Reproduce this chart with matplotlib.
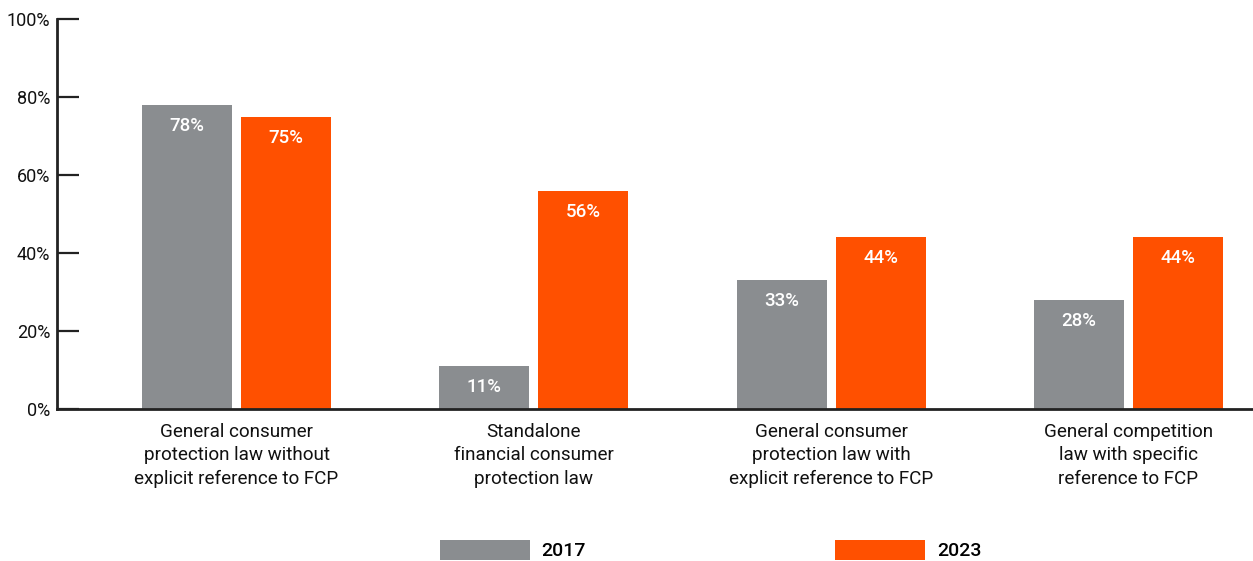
import matplotlib
matplotlib.use("Agg")
import matplotlib.pyplot as plt
import numpy as np

plt.rcParams['font.family'] = ['Roboto', 'DejaVu Sans']

categories = [
    "General consumer\nprotection law without\nexplicit reference to FCP",
    "Standalone\nfinancial consumer\nprotection law",
    "General consumer\nprotection law with\nexplicit reference to FCP",
    "General competition\nlaw with specific\nreference to FCP",
]
years = ["2017", "2023"]
vals_2017 = [78, 11, 33, 28]
vals_2023 = [75, 56, 44, 44]

gray = "#8a8d90"
orange = "#ff5000"

fig = plt.figure(figsize=(12.53, 5.61), dpi=100)
ax = fig.add_axes([0.0455, 0.2709, 0.9545, 0.6952])

x = np.arange(len(categories))
w = 0.303
off = 0.1667
b1 = ax.bar(x - off, vals_2017, w, color=gray, label=years[0])
b2 = ax.bar(x + off, vals_2023, w, color=orange, label=years[1])

for bars, vals in ((b1, vals_2017), (b2, vals_2023)):
    for r, v in zip(bars, vals):
        ax.annotate(f"{v}%", (r.get_x() + r.get_width() / 2, v),
                    xytext=(0, -21), textcoords="offset pixels",
                    ha="center", va="center", color="white",
                    fontsize=13.5, fontweight="medium")

ax.set_xlim(-0.604, 3.419)
ax.set_ylim(0, 100)
ax.set_yticks(range(0, 101, 20))
ax.set_yticklabels([f"{t}%" for t in range(0, 101, 20)], fontsize=13, color="#111111")
ax.tick_params(axis="y", direction="in", length=16, width=1.6, color="#222222", pad=5)
ax.set_xticks(x)
ax.set_xticklabels(categories, fontsize=13.6, color="#111111", linespacing=1.38)
ax.tick_params(axis="x", length=0, pad=10)

for s in ("top", "right"):
    ax.spines[s].set_visible(False)
for s in ("left", "bottom"):
    ax.spines[s].set_linewidth(2)
    ax.spines[s].set_color("#222222")

fig.legend(handles=[b1, b2], labels=years, loc="center", bbox_to_anchor=(0.567, 0.0196),
           ncol=2, frameon=False, handlelength=4.63, handleheight=1.19,
           handletextpad=0.62, columnspacing=12.8, prop={"size": 14, "weight": "medium"})

fig.savefig("out.png", dpi=100)
